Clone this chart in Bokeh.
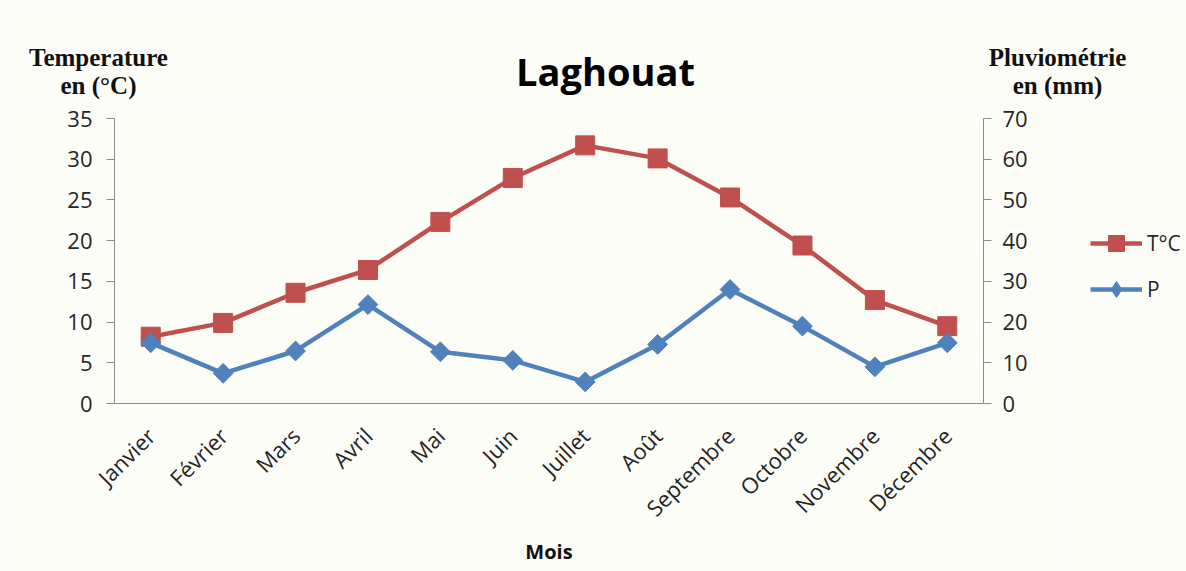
import numpy as np
from bokeh.plotting import figure
from bokeh.layouts import column, row
from bokeh.models import (Range1d, LinearAxis, SingleIntervalTicker, Label,
                          Legend, LegendItem, ColumnDataSource, FactorRange)
from bokeh.embed import file_html
from bokeh.resources import INLINE

months = ["Janvier", "Février", "Mars", "Avril", "Mai", "Juin", "Juillet",
          "Août", "Septembre", "Octobre", "Novembre", "Décembre"]
temperature = [8.2, 9.9, 13.6, 16.4, 22.3, 27.7, 31.7, 30.1, 25.3, 19.4, 12.7, 9.5]
pluvio = [14.9, 7.4, 12.9, 24.3, 12.7, 10.6, 5.3, 14.5, 28.0, 19.0, 9.0, 14.9]
left_ticks_max = 35
right_ticks_max = 70
series_names = ["T°C", "P"]

RED = "#C0504D"
BLUE = "#4F81BD"
BG = "#FDFDF8"
AX = "#8C8C8C"
TXT = "#262626"

TOP_H = 100
MAIN_W = 1070
MAIN_H = 471
LEG_W = 1186 - MAIN_W
FRAME_TOP = 18
FRAME_BOTTOM = 168

# ---------- top strip with titles ----------
top = figure(width=1186, height=TOP_H, x_range=Range1d(0, 1186),
             y_range=Range1d(TOP_H, 0), output_backend="svg",
             toolbar_location=None, min_border=0,
             background_fill_color=BG, border_fill_color=BG)
top.axis.visible = False
top.grid.visible = False
top.outline_line_color = None
top.add_layout(Label(x=605, y=70, text="Laghouat", text_align="center",
                     text_baseline="alphabetic", text_font="Open Sans",
                     text_font_style="bold", text_font_size="38px",
                     text_color="#000000"))
for xx, l1, l2 in [(98, "Temperature", "en (°C)"),
                   (1057, "Pluviométrie", "en (mm)")]:
    for yy, txt in [(56.7, l1), (85, l2)]:
        top.add_layout(Label(x=xx, y=yy, text=txt, text_align="center",
                             text_baseline="alphabetic",
                             text_font="Liberation Serif",
                             text_font_style="bold", text_font_size="25px",
                             text_color="#111111"))

# ---------- main chart ----------
src = ColumnDataSource(dict(m=months, t=temperature, p=pluvio))

p = figure(width=MAIN_W, height=MAIN_H, x_range=FactorRange(*months, range_padding=0),
           y_range=Range1d(0, left_ticks_max), output_backend="svg",
           toolbar_location=None, min_border_left=114,
           min_border_right=MAIN_W - 983, min_border_top=FRAME_TOP,
           min_border_bottom=FRAME_BOTTOM,
           background_fill_color=BG, border_fill_color=BG)
p.outline_line_color = None
p.grid.grid_line_color = None
p.extra_y_ranges = {"p": Range1d(0, right_ticks_max)}

ya = p.yaxis[0]
ya.ticker = SingleIntervalTicker(interval=5)
ya.minor_tick_line_color = None
ya.major_tick_in = 0
ya.major_tick_out = 8
ya.axis_line_color = AX
ya.major_tick_line_color = AX
ya.major_label_text_font = "Open Sans"
ya.major_label_text_font_size = "22px"
ya.major_label_text_color = TXT
ya.major_label_standoff = 14

ra = LinearAxis(y_range_name="p", ticker=SingleIntervalTicker(interval=10))
ra.minor_tick_line_color = None
ra.major_tick_in = 0
ra.major_tick_out = 8
ra.axis_line_color = AX
ra.major_tick_line_color = AX
ra.major_label_text_font = "Open Sans"
ra.major_label_text_font_size = "22px"
ra.major_label_text_color = TXT
ra.major_label_standoff = 11
p.add_layout(ra, "right")

xa = p.xaxis[0]
xa.axis_line_color = AX
xa.major_tick_line_color = None
xa.major_label_orientation = np.pi / 4
xa.major_label_text_font = "Open Sans"
xa.major_label_text_font_size = "22px"
xa.major_label_text_color = TXT
xa.major_label_standoff = 22
xa.axis_label = "Mois"
xa.axis_label_text_font = "Open Sans"
xa.axis_label_text_font_style = "bold"
xa.axis_label_text_font_size = "20px"
xa.axis_label_text_color = "#111111"
xa.axis_label_standoff = 2

p.line("m", "t", source=src, line_color=RED, line_width=4.5)
p.scatter("m", "t", source=src, marker="square", size=19,
          fill_color=RED, line_color=RED)
p.line("m", "p", source=src, line_color=BLUE, line_width=4.5, y_range_name="p")
p.scatter("m", "p", source=src, marker="square", angle=np.pi / 4, size=14,
          fill_color=BLUE, line_color=BLUE, y_range_name="p")

# ---------- legend panel (hidden proxy renderers, shown only as legend keys) ----------
leg = figure(width=LEG_W, height=MAIN_H, x_range=Range1d(0, 1), y_range=Range1d(0, 1),
             output_backend="svg", toolbar_location=None, min_border_left=0,
             min_border_right=0, min_border_top=FRAME_TOP,
             min_border_bottom=FRAME_BOTTOM,
             background_fill_color=BG, border_fill_color=BG)
leg.axis.visible = False
leg.grid.visible = False
leg.outline_line_color = None
l1 = leg.line("t", "p", source=src, line_color=RED, line_width=4.5, visible=False)
s1 = leg.scatter("t", "p", source=src, marker="square", size=16,
                 fill_color=RED, line_color=RED, visible=False)
l2 = leg.line("t", "p", source=src, line_color=BLUE, line_width=4.5, visible=False)
s2 = leg.scatter("t", "p", source=src, marker="diamond", size=16,
                 fill_color=BLUE, line_color=BLUE, visible=False)
legend = Legend(items=[LegendItem(label=series_names[0], renderers=[l1, s1]),
                       LegendItem(label=series_names[1], renderers=[l2, s2])],
                location=(20, 94), glyph_width=52,
                glyph_height=40, spacing=6, label_standoff=5, padding=0,
                margin=0, border_line_color=None, background_fill_alpha=0,
                inactive_fill_alpha=0, click_policy="none",
                label_text_font="Open Sans", label_text_font_size="21px",
                label_text_color=TXT)
leg.add_layout(legend)

layout = column(top, row(p, leg, spacing=0), spacing=0)
open("out.html", "w").write(file_html(layout, INLINE))
